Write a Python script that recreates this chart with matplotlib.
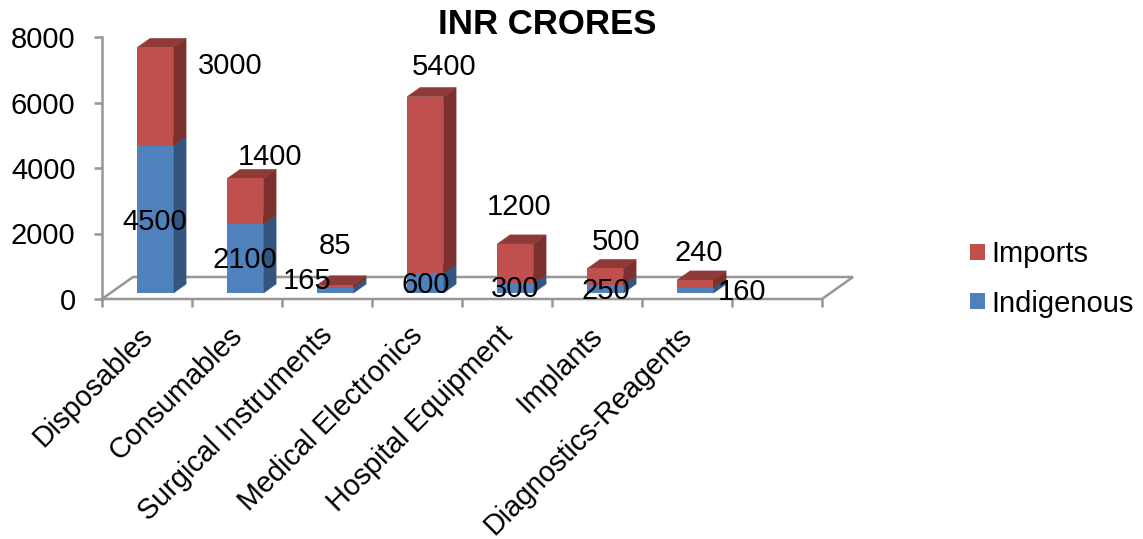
import numpy as np
import matplotlib
matplotlib.use("Agg")
import matplotlib.pyplot as plt
from matplotlib.patches import Polygon
from matplotlib.transforms import ScaledTranslation

plt.rcParams['font.family'] = ['Liberation Sans', 'DejaVu Sans']

categories = ['Disposables', 'Consumables', 'Surgical Instruments', 'Medical Electronics',
              'Hospital Equipment', 'Implants', 'Diagnostics-Reagents']
indigenous = [4500, 2100, 165, 600, 300, 250, 160]
imports = [3000, 1400, 85, 5400, 1200, 500, 240]

# label nudges in pixels, the original chart has them dragged around by hand
indigenous_offsets = [(-1, -3), (-1, -1), (-28, 9), (0, -2), (0, -1), (0, -2), (47, -2)]
imports_offsets = [(75, 31), (25, 44), (0, 40), (19, 118), (4, 57), (11, 35), (3, 31)]

W, H = 1143, 539
fig = plt.figure(figsize=(W / 100, H / 100), dpi=100)
ax = fig.add_axes([102 / W, 1 - 299 / H, 720 / W, 262 / H])
ax.set_xlim(0, 8)
ax.set_ylim(0, 8000)

# fake 3d: one unit of depth moves this far along x and y
depth_x = 31 / 90
depth_y = 22 / 262 * 8000
front, back = 0.27, 0.68
bar_w = 0.4
gray = '#979797'

# floor
ax.add_patch(Polygon([(0, 0), (depth_x, depth_y), (8 + depth_x, depth_y), (8, 0)],
                     closed=True, fill=False, edgecolor=gray, lw=1.8, clip_on=False, zorder=1))


def draw_segment(left, bottom, height, side, top):
    dx = (back - front) * depth_x
    dy = (back - front) * depth_y
    right = left + bar_w
    ax.add_patch(Polygon([(right, bottom), (right + dx, bottom + dy),
                          (right + dx, bottom + height + dy), (right, bottom + height)],
                         closed=True, facecolor=side, edgecolor=side, lw=0.4, clip_on=False, zorder=3))
    ax.add_patch(Polygon([(left, bottom + height), (left + dx, bottom + height + dy),
                          (right + dx, bottom + height + dy), (right, bottom + height)],
                         closed=True, facecolor=top, edgecolor=top, lw=0.4, clip_on=False, zorder=3))


x = np.arange(len(categories))
lefts = x + 0.3 + front * depth_x
base = front * depth_y

for i in range(len(categories)):
    draw_segment(lefts[i], base, indigenous[i], '#34557F', '#3E6797')
    draw_segment(lefts[i], base + indigenous[i], imports[i], '#7D312F', '#8E3A38')

bars_in = ax.bar(lefts, indigenous, bar_w, bottom=base, align='edge', color='#4F81BD',
                 label='Indigenous', zorder=4, clip_on=False)
bars_im = ax.bar(lefts, imports, bar_w, bottom=base + np.array(indigenous), align='edge',
                 color='#C0504D', label='Imports', zorder=4, clip_on=False)

for i in range(len(categories)):
    cx = lefts[i] + bar_w / 2
    ax.annotate(str(indigenous[i]), (cx, base + indigenous[i] / 2), xytext=indigenous_offsets[i],
                textcoords='offset pixels', ha='center', va='center', fontsize=21, color='black',
                zorder=6, annotation_clip=False)
    ax.annotate(str(imports[i]), (cx, base + indigenous[i] + imports[i] / 2), xytext=imports_offsets[i],
                textcoords='offset pixels', ha='center', va='center', fontsize=21, color='black',
                zorder=6, annotation_clip=False)

for s in ['top', 'right', 'bottom']:
    ax.spines[s].set_visible(False)
ax.spines['left'].set_color(gray)
ax.spines['left'].set_linewidth(1.8)

ax.set_yticks([0, 2000, 4000, 6000, 8000])
ax.tick_params(axis='y', labelsize=21, color=gray, width=1.8, length=6, pad=13)

# ticks sit on the bin edges, names on the bin centres
ax.set_xticks(np.arange(0, 9))
ax.set_xticklabels([])
ax.tick_params(axis='x', which='major', color=gray, width=1.8, length=5.5)
ax.set_xticks(x + 0.5, minor=True)
ax.set_xticklabels(categories, minor=True, rotation=45, ha='right', va='top',
                   rotation_mode='anchor', fontsize=20.7)
ax.tick_params(axis='x', which='minor', length=0, pad=16)
shift = ScaledTranslation(-9 / 100, 0, fig.dpi_scale_trans)
for lab in ax.get_xticklabels(minor=True):
    lab.set_transform(lab.get_transform() + shift)

fig.text(547 / W, 1 - 24 / H, 'INR CRORES', ha='center', va='center', fontsize=25, fontweight='bold')

handles = [bars_im, bars_in]
ax.legend(handles, ['Imports', 'Indigenous'], loc='center left',
          bbox_to_anchor=(970 / W, 1 - 279 / H), bbox_transform=fig.transFigure,
          frameon=False, fontsize=21, handlelength=0.5, handleheight=0.5,
          handletextpad=0.25, labelspacing=0.72, borderpad=0, borderaxespad=0)

fig.savefig('out.png', dpi=100)
